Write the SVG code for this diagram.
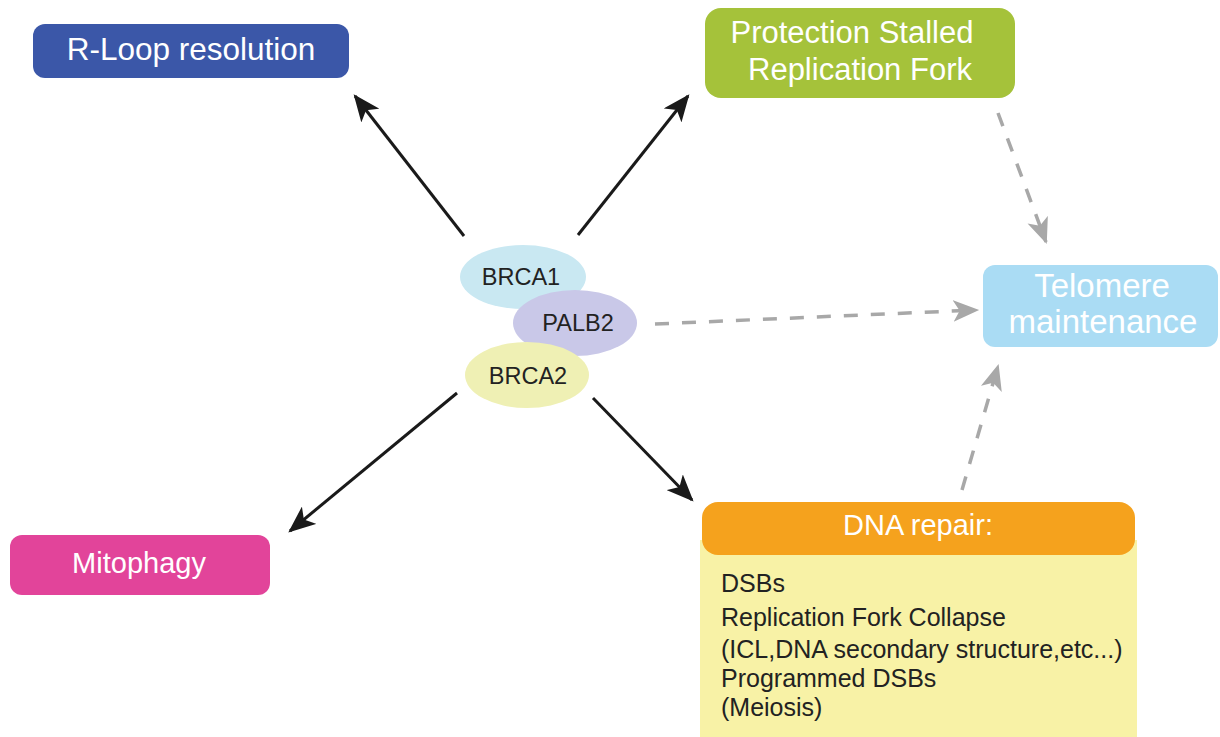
<svg xmlns="http://www.w3.org/2000/svg" width="1220" height="737" viewBox="0 0 1220 737">
<defs>
<style>
.hd{font-family:"Liberation Sans",Arial,sans-serif;fill:#ffffff;text-anchor:middle}
.el{font-family:"Liberation Sans",Arial,sans-serif;fill:#222;font-size:23.5px;text-anchor:middle}
.bd{font-family:"Liberation Sans",Arial,sans-serif;fill:#222;font-size:25px}
.solid{stroke:#1a1a1a;stroke-width:3;fill:none;marker-end:url(#ab)}
.dash{stroke:#a8a8a8;stroke-width:3.5;fill:none;stroke-dasharray:14 13;marker-end:url(#ag)}
</style>
<marker id="ab" viewBox="0 0 12 10" refX="11" refY="5" markerWidth="9" markerHeight="7.5" markerUnits="strokeWidth" orient="auto">
<path d="M0,0 L12,5 L0,10 L3,5 z" fill="#1a1a1a"/>
</marker>
<marker id="ag" viewBox="0 0 12 10" refX="11" refY="5" markerWidth="26" markerHeight="22" markerUnits="userSpaceOnUse" orient="auto">
<path d="M0,0 L12,5 L0,10 L3,5 z" fill="#a8a8a8"/>
</marker>
</defs>
<rect width="1220" height="737" fill="#ffffff"/>
<g id="connectors">
<line class="solid" x1="464" y1="236" x2="355" y2="96"/>
<line class="solid" x1="578" y1="235" x2="688" y2="96"/>
<line class="solid" x1="457" y1="393" x2="290" y2="531"/>
<line class="solid" x1="593" y1="398" x2="692" y2="500"/>
<line class="dash" x1="998" y1="113" x2="1046" y2="242"/>
<line class="dash" x1="655" y1="324" x2="977" y2="310"/>
<line class="dash" x1="962" y1="490" x2="998" y2="366"/>
</g>
<g id="rloop">
<rect x="33" y="24" width="316" height="54" rx="12" fill="#3b57a8"/>
<text class="hd" x="191" y="60" font-size="31.5">R-Loop resolution</text>
</g>
<g id="protection">
<rect x="705" y="8" width="310" height="90" rx="16" fill="#a5c23a"/>
<text class="hd" x="852" y="43" font-size="31">Protection Stalled</text>
<text class="hd" x="860" y="80" font-size="31">Replication Fork</text>
</g>
<g id="telomere">
<rect x="983" y="265" width="235" height="82" rx="12" fill="#aadcf4"/>
<text class="hd" x="1102" y="297" font-size="33">Telomere</text>
<text class="hd" x="1103" y="333" font-size="33">maintenance</text>
</g>
<g id="mitophagy">
<rect x="10" y="535" width="260" height="60" rx="12" fill="#e2449a"/>
<text class="hd" x="139" y="573" font-size="29">Mitophagy</text>
</g>
<g id="dnarepair">
<path d="M700,540 H1137 V737 H700 Z" fill="#f8f2a6"/>
<rect x="702" y="502" width="433" height="53" rx="16" fill="#f5a21d"/>
<text class="hd" x="918" y="535" font-size="29">DNA repair:</text>
<text class="bd" x="721" y="592">DSBs</text>
<text class="bd" x="721" y="626">Replication Fork Collapse</text>
<text class="bd" x="721" y="658">(ICL,DNA secondary structure,etc...)</text>
<text class="bd" x="721" y="687">Programmed DSBs</text>
<text class="bd" x="721" y="716">(Meiosis)</text>
</g>
<g id="brca1">
<ellipse cx="523" cy="277" rx="63" ry="32" fill="#c9e8f2"/>
<text class="el" x="521" y="285">BRCA1</text>
</g>
<g id="palb2">
<ellipse cx="575" cy="323" rx="62" ry="33" fill="#c9c8e8"/>
<text class="el" x="578" y="331">PALB2</text>
</g>
<g id="brca2">
<ellipse cx="527" cy="375" rx="62" ry="33" fill="#eff0b4"/>
<text class="el" x="528" y="384">BRCA2</text>
</g>
</svg>
